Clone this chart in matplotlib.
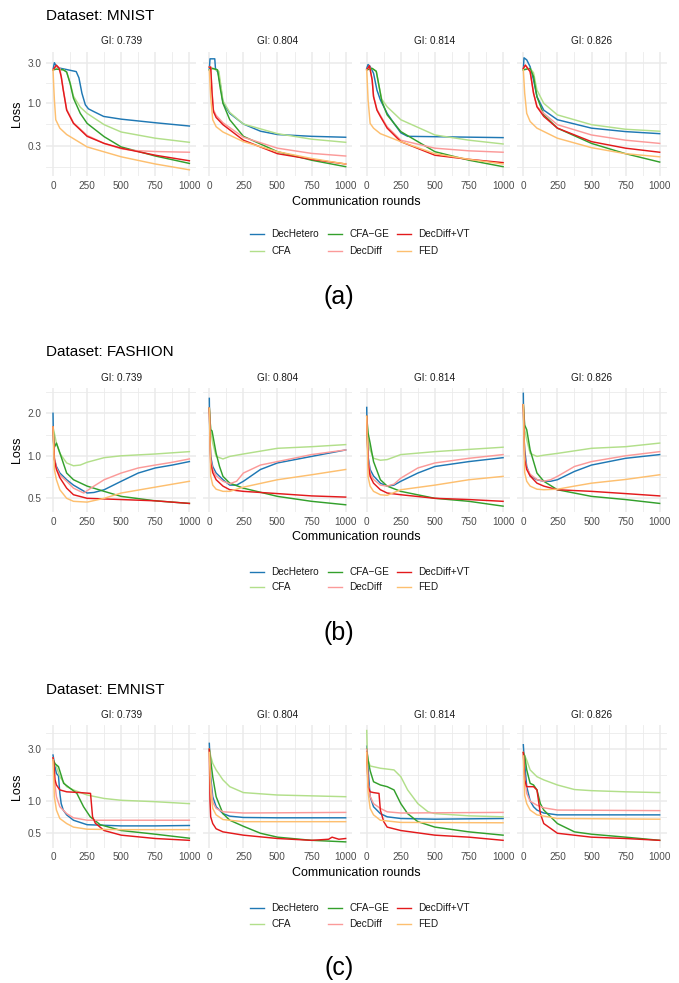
import numpy as np
import matplotlib
matplotlib.use("Agg")
import matplotlib.pyplot as plt
from matplotlib.lines import Line2D

plt.rcParams['font.family'] = ['Liberation Sans', 'DejaVu Sans']

# series names and colours (legend order)
methods = ["DecHetero", "CFA", "CFA-GE", "DecDiff", "DecDiff+VT", "FED"]
legend_labels = ["DecHetero", "CFA", "CFA\u2212GE", "DecDiff", "DecDiff+VT", "FED"]
colors = ["#1F78B4", "#B2DF8A", "#33A02C", "#FB9A99", "#E31A1C", "#FDBF6F"]
gi_labels = ["GI: 0.739", "GI: 0.804", "GI: 0.814", "GI: 0.826"]
x_ticks = [0, 250, 500, 750, 1000]

# ---- MNIST: (round, loss) points ----
mnist_739 = {
    "DecHetero": [(0, 2.5), (10, 3.05), (25, 2.75), (50, 2.62), (100, 2.52), (170, 2.38), (190, 2.0), (212, 1.3),
                  (237, 0.94), (260, 0.84), (298, 0.78), (371, 0.68), (500, 0.63), (750, 0.57), (1000, 0.52)],
    "CFA": [(0, 2.5), (25, 2.55), (80, 2.5), (100, 2.35), (125, 1.75), (150, 1.2), (200, 0.88), (250, 0.74),
            (375, 0.54), (500, 0.44), (750, 0.37), (1000, 0.33)],
    "CFA-GE": [(0, 2.5), (25, 2.55), (75, 2.5), (100, 2.35), (125, 1.72), (150, 1.13), (200, 0.74), (250, 0.56),
               (375, 0.386), (500, 0.29), (750, 0.225), (1000, 0.183)],
    "DecDiff": [(0, 2.5), (25, 2.8), (50, 2.6), (60, 2.1), (75, 1.45), (100, 0.83), (150, 0.57), (250, 0.40),
                (375, 0.32), (500, 0.275), (600, 0.262), (750, 0.255), (1000, 0.25)],
    "DecDiff+VT": [(0, 2.5), (25, 2.85), (45, 2.6), (60, 2.07), (75, 1.42), (100, 0.81), (150, 0.56), (250, 0.39),
                   (375, 0.32), (500, 0.28), (750, 0.23), (1000, 0.197)],
    "FED": [(0, 2.5), (5, 1.6), (10, 1.08), (20, 0.62), (50, 0.49), (100, 0.41), (250, 0.29), (500, 0.22),
            (750, 0.18), (1000, 0.153)],
}
mnist_804 = {
    "DecHetero": [(0, 2.5), (5, 3.4), (40, 3.4), (45, 2.6), (65, 2.3), (85, 1.5), (100, 1.0), (150, 0.74),
                  (250, 0.55), (375, 0.45), (500, 0.41), (750, 0.39), (1000, 0.38)],
    "CFA": [(0, 2.7), (25, 2.6), (70, 2.4), (85, 1.6), (100, 1.05), (150, 0.76), (250, 0.55), (500, 0.42),
            (750, 0.36), (1000, 0.33)],
    "CFA-GE": [(0, 2.5), (25, 2.6), (60, 2.5), (80, 1.5), (100, 0.98), (150, 0.62), (250, 0.39), (500, 0.254),
               (750, 0.2), (1000, 0.167)],
    "DecDiff": [(0, 2.7), (10, 2.7), (20, 1.35), (30, 0.82), (50, 0.70), (100, 0.57), (250, 0.38), (500, 0.28),
                (750, 0.242), (1000, 0.225)],
    "DecDiff+VT": [(0, 2.7), (10, 2.7), (20, 1.3), (30, 0.78), (50, 0.66), (100, 0.54), (250, 0.35), (500, 0.24),
                   (750, 0.205), (1000, 0.18)],
    "FED": [(0, 2.5), (10, 1.18), (25, 0.62), (50, 0.51), (100, 0.44), (250, 0.336), (500, 0.254), (750, 0.21),
            (1000, 0.18)],
}
mnist_814 = {
    "DecHetero": [(0, 2.6), (10, 2.9), (25, 2.75), (50, 2.27), (75, 1.42), (100, 1.08), (150, 0.74), (200, 0.56),
                  (250, 0.43), (300, 0.39), (500, 0.386), (1000, 0.376)],
    "CFA": [(0, 2.5), (40, 2.6), (70, 2.4), (90, 1.6), (110, 1.1), (150, 0.89), (250, 0.62), (500, 0.405),
            (750, 0.35), (1000, 0.315)],
    "CFA-GE": [(0, 2.5), (40, 2.6), (70, 2.4), (90, 1.6), (110, 1.05), (150, 0.71), (250, 0.445), (500, 0.254),
               (750, 0.2), (1000, 0.167)],
    "DecDiff": [(0, 2.5), (20, 2.8), (40, 1.88), (50, 1.2), (75, 0.83), (100, 0.7), (150, 0.51), (250, 0.35),
                (500, 0.28), (750, 0.26), (1000, 0.25)],
    "DecDiff+VT": [(0, 2.5), (20, 2.8), (40, 1.88), (50, 1.18), (75, 0.81), (100, 0.68), (150, 0.49), (250, 0.336),
                   (500, 0.23), (750, 0.205), (1000, 0.187)],
    "FED": [(0, 2.5), (10, 1.08), (25, 0.56), (50, 0.49), (100, 0.42), (250, 0.336), (500, 0.24), (750, 0.205),
            (1000, 0.18)],
}
mnist_826 = {
    "DecHetero": [(0, 2.5), (5, 3.5), (25, 3.3), (50, 2.73), (75, 1.88), (100, 1.18), (150, 0.81), (250, 0.62),
                  (500, 0.49), (750, 0.445), (1000, 0.42)],
    "CFA": [(0, 2.5), (50, 2.6), (75, 2.3), (100, 1.42), (150, 0.98), (250, 0.71), (500, 0.54), (750, 0.475),
            (1000, 0.45)],
    "CFA-GE": [(0, 2.5), (50, 2.6), (75, 2.07), (100, 1.18), (150, 0.71), (250, 0.49), (500, 0.32), (750, 0.24),
               (1000, 0.19)],
    "DecDiff": [(0, 2.6), (15, 2.85), (50, 2.38), (75, 1.3), (100, 0.9), (150, 0.74), (250, 0.54), (500, 0.405),
                (750, 0.35), (1000, 0.32)],
    "DecDiff+VT": [(0, 2.6), (15, 2.85), (50, 2.38), (75, 1.3), (100, 0.89), (150, 0.68), (250, 0.49), (500, 0.336),
                   (750, 0.28), (1000, 0.25)],
    "FED": [(0, 2.5), (10, 1.3), (25, 0.74), (50, 0.59), (100, 0.49), (250, 0.37), (500, 0.284), (750, 0.24),
            (1000, 0.22)],
}

# ---- FASHION ----
fashion_739 = {
    "DecHetero": [(0, 2.0), (3, 1.3), (10, 0.95), (25, 0.84), (50, 0.755), (100, 0.677), (150, 0.62), (250, 0.545),
                  (300, 0.55), (375, 0.575), (500, 0.66), (625, 0.755), (750, 0.82), (875, 0.86), (1000, 0.91)],
    "CFA": [(0, 1.6), (25, 1.23), (50, 1.04), (100, 0.89), (150, 0.85), (200, 0.86), (250, 0.9), (375, 0.97),
            (500, 1.0), (750, 1.03), (1000, 1.07)],
    "CFA-GE": [(0, 1.6), (10, 1.15), (25, 1.23), (50, 1.05), (75, 0.89), (100, 0.755), (150, 0.677), (250, 0.61),
               (375, 0.56), (500, 0.516), (750, 0.48), (1000, 0.46)],
    "DecDiff": [(0, 1.6), (10, 0.97), (25, 0.82), (50, 0.73), (100, 0.66), (150, 0.59), (225, 0.545), (300, 0.61),
                (375, 0.677), (500, 0.755), (625, 0.82), (750, 0.86), (875, 0.9), (1000, 0.95)],
    "DecDiff+VT": [(0, 1.6), (10, 0.94), (25, 0.8), (50, 0.7), (100, 0.59), (150, 0.53), (250, 0.5), (500, 0.49),
                   (750, 0.48), (1000, 0.46)],
    "FED": [(0, 1.6), (10, 0.8), (25, 0.677), (50, 0.575), (100, 0.5), (150, 0.476), (250, 0.47), (375, 0.5),
            (500, 0.545), (750, 0.6), (1000, 0.66)],
}
fashion_804 = {
    "DecHetero": [(0, 2.55), (3, 1.5), (10, 0.99), (25, 0.84), (50, 0.755), (100, 0.677), (150, 0.62), (200, 0.62),
                  (250, 0.66), (375, 0.8), (500, 0.89), (750, 0.99), (1000, 1.1)],
    "CFA": [(0, 2.17), (10, 1.53), (25, 1.23), (50, 0.99), (100, 0.95), (150, 0.99), (250, 1.03), (500, 1.13),
            (750, 1.16), (1000, 1.2)],
    "CFA-GE": [(0, 2.17), (10, 1.53), (20, 1.5), (50, 1.04), (75, 0.84), (100, 0.715), (150, 0.64), (250, 0.59),
               (500, 0.516), (750, 0.476), (1000, 0.45)],
    "DecDiff": [(0, 2.17), (10, 0.95), (25, 0.8), (50, 0.72), (100, 0.66), (150, 0.634), (200, 0.66), (250, 0.755),
                (375, 0.86), (500, 0.91), (750, 1.02), (1000, 1.1)],
    "DecDiff+VT": [(0, 2.17), (10, 0.89), (25, 0.76), (50, 0.677), (100, 0.61), (150, 0.575), (250, 0.56),
                   (500, 0.54), (750, 0.52), (1000, 0.51)],
    "FED": [(0, 2.17), (10, 0.72), (25, 0.62), (50, 0.58), (100, 0.56), (150, 0.56), (250, 0.6), (500, 0.677),
            (750, 0.734), (1000, 0.8)],
}
fashion_814 = {
    "DecHetero": [(0, 2.2), (3, 1.4), (10, 0.99), (25, 0.8), (50, 0.72), (100, 0.64), (150, 0.61), (200, 0.62),
                  (250, 0.66), (375, 0.755), (500, 0.84), (750, 0.91), (1000, 0.97)],
    "CFA": [(0, 1.9), (10, 1.3), (25, 1.1), (50, 0.96), (100, 0.93), (150, 0.94), (250, 1.02), (500, 1.07),
            (750, 1.11), (1000, 1.15)],
    "CFA-GE": [(0, 1.9), (10, 1.45), (25, 1.23), (50, 0.91), (100, 0.677), (150, 0.61), (250, 0.56), (500, 0.5),
               (750, 0.476), (1000, 0.44)],
    "DecDiff": [(0, 1.9), (10, 0.95), (25, 0.75), (50, 0.68), (100, 0.62), (150, 0.61), (200, 0.63), (250, 0.695),
                (375, 0.82), (500, 0.89), (750, 0.96), (1000, 1.02)],
    "DecDiff+VT": [(0, 1.9), (10, 0.89), (25, 0.715), (50, 0.64), (100, 0.575), (150, 0.545), (250, 0.53),
                   (500, 0.5), (750, 0.49), (1000, 0.476)],
    "FED": [(0, 1.9), (10, 0.71), (25, 0.61), (50, 0.56), (100, 0.53), (150, 0.525), (250, 0.575), (500, 0.62),
            (750, 0.677), (1000, 0.715)],
}
fashion_826 = {
    "DecHetero": [(0, 2.77), (3, 1.5), (10, 1.1), (25, 0.84), (50, 0.72), (100, 0.677), (150, 0.66), (200, 0.66),
                  (250, 0.677), (375, 0.775), (500, 0.86), (750, 0.96), (1000, 1.02)],
    "CFA": [(0, 2.3), (10, 1.53), (25, 1.3), (50, 1.04), (100, 0.99), (150, 1.01), (250, 1.04), (500, 1.13),
            (750, 1.16), (1000, 1.23)],
    "CFA-GE": [(0, 2.3), (10, 1.65), (25, 1.53), (50, 1.1), (100, 0.755), (150, 0.66), (250, 0.575), (500, 0.516),
               (750, 0.49), (1000, 0.46)],
    "DecDiff": [(0, 2.3), (10, 0.99), (25, 0.82), (50, 0.74), (100, 0.68), (150, 0.66), (200, 0.677), (250, 0.715),
                (375, 0.84), (500, 0.91), (750, 1.0), (1000, 1.07)],
    "DecDiff+VT": [(0, 2.3), (10, 0.94), (25, 0.8), (50, 0.72), (100, 0.64), (150, 0.61), (250, 0.575), (500, 0.56),
                   (750, 0.54), (1000, 0.52)],
    "FED": [(0, 2.3), (10, 0.76), (25, 0.66), (50, 0.61), (100, 0.58), (150, 0.575), (250, 0.58), (375, 0.61),
            (500, 0.64), (750, 0.68), (1000, 0.734)],
}

# ---- EMNIST ----
emnist_739 = {
    "DecHetero": [(0, 2.65), (10, 2.22), (25, 1.79), (40, 1.7), (50, 1.17), (60, 0.94), (75, 0.82), (100, 0.74),
                  (150, 0.66), (250, 0.6), (500, 0.585), (750, 0.585), (1000, 0.59)],
    "CFA": [(0, 2.4), (25, 2.07), (50, 1.67), (100, 1.35), (150, 1.26), (250, 1.13), (375, 1.05), (500, 1.01),
            (750, 0.98), (1000, 0.94)],
    "CFA-GE": [(0, 2.4), (15, 2.2), (40, 2.07), (78, 1.45), (127, 1.3), (175, 1.17), (224, 0.88), (273, 0.71),
               (346, 0.6), (500, 0.53), (750, 0.49), (1000, 0.45)],
    "DecDiff": [(0, 2.5), (10, 1.56), (25, 1.09), (50, 0.88), (100, 0.76), (150, 0.695), (250, 0.66), (500, 0.66),
                (1000, 0.66)],
    "DecDiff+VT": [(0, 2.5), (5, 2.3), (15, 1.56), (25, 1.4), (50, 1.26), (100, 1.21), (200, 1.19), (275, 1.17),
                   (290, 0.71), (310, 0.62), (375, 0.53), (500, 0.48), (750, 0.447), (1000, 0.43)],
    "FED": [(0, 2.4), (10, 1.09), (25, 0.82), (50, 0.685), (100, 0.615), (150, 0.57), (250, 0.545), (500, 0.54),
            (1000, 0.54)],
}
emnist_804 = {
    "DecHetero": [(0, 3.4), (10, 1.67), (25, 1.09), (50, 0.88), (100, 0.76), (150, 0.72), (250, 0.7), (500, 0.695),
                  (1000, 0.695)],
    "CFA": [(0, 3.0), (10, 2.6), (25, 2.22), (50, 1.93), (100, 1.56), (150, 1.35), (250, 1.19), (500, 1.13),
            (750, 1.11), (1000, 1.09)],
    "CFA-GE": [(0, 3.0), (10, 2.38), (25, 1.67), (50, 1.09), (75, 0.91), (100, 0.76), (150, 0.66), (250, 0.58),
               (375, 0.5), (500, 0.46), (750, 0.43), (1000, 0.416)],
    "DecDiff": [(0, 3.0), (10, 1.5), (25, 0.97), (50, 0.85), (100, 0.79), (250, 0.77), (1000, 0.78)],
    "DecDiff+VT": [(0, 3.0), (5, 1.0), (10, 0.71), (25, 0.615), (50, 0.55), (100, 0.515), (250, 0.48), (500, 0.447),
                   (750, 0.43), (875, 0.44), (900, 0.46), (950, 0.44), (1000, 0.447)],
    "FED": [(0, 2.8), (10, 1.2), (25, 0.85), (50, 0.74), (100, 0.67), (250, 0.64), (1000, 0.64)],
}
emnist_814 = {
    "DecHetero": [(0, 3.2), (5, 2.6), (10, 2.0), (25, 1.09), (50, 0.88), (100, 0.76), (150, 0.71), (250, 0.685),
                  (500, 0.675), (1000, 0.685)],
    "CFA": [(0, 4.47), (5, 2.6), (10, 2.38), (25, 2.1), (100, 2.0), (200, 1.93), (250, 1.67), (300, 1.26),
            (375, 0.94), (450, 0.79), (500, 0.76), (750, 0.725), (1000, 0.71)],
    "CFA-GE": [(0, 3.0), (10, 2.38), (25, 1.9), (50, 1.5), (100, 1.4), (150, 1.35), (200, 1.26), (250, 0.94),
               (300, 0.76), (375, 0.64), (500, 0.57), (750, 0.515), (1000, 0.48)],
    "DecDiff": [(0, 3.0), (10, 1.5), (25, 1.1), (50, 0.94), (100, 0.85), (150, 0.79), (250, 0.77), (1000, 0.78)],
    "DecDiff+VT": [(0, 2.8), (10, 1.35), (25, 1.21), (50, 1.19), (90, 1.17), (100, 0.82), (125, 0.64), (150, 0.57),
                   (250, 0.53), (500, 0.48), (750, 0.46), (1000, 0.43)],
    "FED": [(0, 2.8), (10, 1.2), (25, 0.85), (50, 0.74), (100, 0.66), (250, 0.63), (1000, 0.625)],
}
emnist_826 = {
    "DecHetero": [(0, 3.3), (5, 2.6), (25, 1.35), (50, 1.0), (75, 0.88), (100, 0.82), (150, 0.77), (250, 0.74),
                  (500, 0.74), (1000, 0.74)],
    "CFA": [(0, 2.8), (25, 2.38), (50, 1.93), (100, 1.67), (150, 1.56), (250, 1.4), (375, 1.27), (500, 1.24),
            (750, 1.21), (1000, 1.19)],
    "CFA-GE": [(0, 2.8), (10, 2.6), (25, 1.93), (50, 1.45), (75, 1.4), (100, 1.26), (125, 0.94), (150, 0.82),
               (250, 0.615), (375, 0.515), (500, 0.49), (750, 0.46), (1000, 0.43)],
    "DecDiff": [(0, 2.8), (10, 1.67), (25, 1.17), (50, 0.99), (100, 0.91), (150, 0.86), (250, 0.82), (1000, 0.81)],
    "DecDiff+VT": [(0, 2.8), (10, 1.56), (25, 1.35), (75, 1.35), (100, 1.26), (125, 0.76), (150, 0.615), (250, 0.5),
                   (500, 0.46), (750, 0.447), (1000, 0.43)],
    "FED": [(0, 2.6), (10, 1.12), (25, 0.94), (50, 0.82), (100, 0.74), (250, 0.685), (1000, 0.675)],
}

# layout in pixels of the 679x983 canvas
W, H = 679, 983
facet_left = [46.2, 202.5, 359.9, 516.5]
facet_w = 150.0

groups = [
    dict(name="MNIST", facets=[mnist_739, mnist_804, mnist_814, mnist_826], top=51.6, bottom=176.2,
         ylim=(0.128, 4.16), yticks=[0.3, 1.0, 3.0], title_y=15.5, strip_y=41.5, xlab_y=202,
         leg_y=(234.3, 250.7), tag="(a)", tag_y=296.7),
    dict(name="FASHION", facets=[fashion_739, fashion_804, fashion_814, fashion_826], top=388, bottom=512,
         ylim=(0.40, 3.02), yticks=[0.5, 1.0, 2.0], title_y=352, strip_y=378.5, xlab_y=537.5,
         leg_y=(571.7, 587.3), tag="(b)", tag_y=633),
    dict(name="EMNIST", facets=[emnist_739, emnist_804, emnist_814, emnist_826], top=725, bottom=847.5,
         ylim=(0.369, 5.03), yticks=[0.5, 1.0, 3.0], title_y=690, strip_y=715.5, xlab_y=873.5,
         leg_y=(908.3, 924.3), tag="(c)", tag_y=968.5),
]

fig = plt.figure(figsize=(W / 100, H / 100), dpi=100)


def fx(x):
    return x / W


def fy(y):
    return 1 - y / H


grid_col = "#EBEBEB"
tick_col = "#4D4D4D"

for g in groups:
    lo, hi = g["ylim"]
    # minor breaks the way ggplot places them (midway in log space)
    lb = list(np.log10(g["yticks"]))
    step = lb[1] - lb[0]
    ext = [lb[0] - step] + lb + [lb[-1] + step]
    minors = [10 ** ((a + b) / 2) for a, b in zip(ext[:-1], ext[1:])]
    minors = [m for m in minors if lo < m < hi]

    for i, facet in enumerate(g["facets"]):
        ax = fig.add_axes([fx(facet_left[i]), fy(g["bottom"]), fx(facet_w), (g["bottom"] - g["top"]) / H])
        ax.set_yscale("log")
        ax.set_xlim(-50, 1050)
        ax.set_ylim(lo, hi)
        for s in ax.spines.values():
            s.set_visible(False)
        for m in minors:
            ax.axhline(m, color=grid_col, lw=0.6, zorder=0)
        for t in g["yticks"]:
            ax.axhline(t, color=grid_col, lw=1.1, zorder=0)
        for xm in [125, 375, 625, 875]:
            ax.axvline(xm, color=grid_col, lw=0.6, zorder=0)
        for xt in x_ticks:
            ax.axvline(xt, color=grid_col, lw=1.1, zorder=0)

        for name, col in zip(methods, colors):
            pts = facet[name]
            xs = [p[0] for p in pts]
            ys = [p[1] for p in pts]
            ax.plot(xs, ys, color=col, lw=1.05, solid_joinstyle="round", zorder=2)

        ax.set_xticks(x_ticks)
        ax.set_xticklabels([str(v) for v in x_ticks])
        ax.yaxis.set_minor_locator(matplotlib.ticker.NullLocator())
        ax.set_yticks(g["yticks"])
        if i == 0:
            ax.set_yticklabels(["%.1f" % v for v in g["yticks"]])
        else:
            ax.set_yticklabels([])
        ax.tick_params(length=0, labelsize=7.2, colors=tick_col, pad=3.5)
        ax.set_facecolor("none")

        fig.text(fx(facet_left[i] + facet_w / 2), fy(g["strip_y"]), gi_labels[i], ha="center", va="center",
                 fontsize=7.2, color="#1A1A1A")

    fig.text(fx(46), fy(g["title_y"]), "Dataset: " + g["name"], ha="left", va="center", fontsize=11, color="black")
    fig.text(fx(16.7), fy((g["top"] + g["bottom"]) / 2), "Loss", rotation=90, ha="center", va="center",
             fontsize=9, color="black")
    fig.text(fx(356.5), fy(g["xlab_y"]), "Communication rounds", ha="center", va="center", fontsize=9,
             color="black")

    # legend, 3 columns x 2 rows, filled by column
    key_x = [250, 328.3, 397.3]
    for k, (lab, col) in enumerate(zip(legend_labels, colors)):
        c, r = k // 2, k % 2
        yy = g["leg_y"][r]
        fig.add_artist(Line2D([fx(key_x[c]), fx(key_x[c] + 14)], [fy(yy), fy(yy)], color=col, lw=1.0))
        fig.text(fx(key_x[c] + 21), fy(yy), lab, ha="left", va="center", fontsize=7.2, color="#1A1A1A")

    fig.text(fx(339), fy(g["tag_y"]), g["tag"], ha="center", va="center", fontsize=18, color="black")

fig.savefig("out.png", dpi=100)
